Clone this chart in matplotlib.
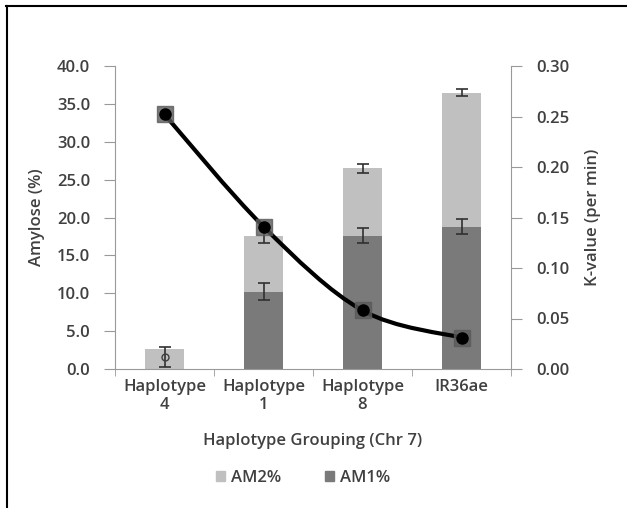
import numpy as np
import matplotlib
matplotlib.use("Agg")
import matplotlib.pyplot as plt
from matplotlib.path import Path
from matplotlib.patches import PathPatch, Rectangle
from matplotlib.lines import Line2D

categories = ["Haplotype\n4", "Haplotype\n1", "Haplotype\n8", "IR36ae"]
am1 = [0.0, 10.2, 17.6, 18.8]
am1_err = [0.0, 1.1, 1.0, 1.0]
am_total = [2.7, 17.6, 26.5, 36.5]
total_err = [0.0, 1.0, 0.6, 0.4]
hap4_mark = 1.6
hap4_mark_err = 1.3
kvalue = [0.252, 0.141, 0.058, 0.031]
am2 = [t - a for t, a in zip(am_total, am1)]

plt.rcParams['font.family'] = ['Open Sans', 'DejaVu Sans']
plt.rcParams['font.weight'] = 'semibold'
plt.rcParams['axes.labelweight'] = 'semibold'
txt = '#404040'
dark = '#7a7a7a'
light = '#c0c0c0'
fs = 12

fig = plt.figure(figsize=(6.27, 5.08), dpi=100)
ax = fig.add_axes([115/627, 1-369/508, (511-115)/627, (369-66)/508])
x = np.arange(len(categories))
w = 0.39
ax.bar(x, am1, w, color=dark, zorder=2)
ax.bar(x, am2, w, bottom=am1, color=light, zorder=2)
ax.errorbar(x[1:], am1[1:], yerr=am1_err[1:], fmt='none', ecolor='#303030', capsize=4, elinewidth=1.2, capthick=1.2, zorder=3)
ax.errorbar(x[1:], am_total[1:], yerr=total_err[1:], fmt='none', ecolor='#303030', capsize=4, elinewidth=1.2, capthick=1.2, zorder=3)
ax.errorbar([x[0]], [hap4_mark], yerr=[hap4_mark_err], fmt='o', mfc='none', mec='#404040', ms=5, ecolor='#303030', capsize=4, elinewidth=1.2, capthick=1.2, zorder=3)

ax.set_ylim(0, 40)
ax.set_xlim(-0.5, 3.5)
ax.set_yticks(np.arange(0, 40.1, 5))
ax.set_yticklabels([f"{v:.1f}" for v in np.arange(0, 40.1, 5)])
ax.set_xticks(x)
ax.set_xticklabels(categories, color=txt, fontsize=fs, linespacing=1.2)
ax.set_xticks(np.arange(-0.5, 3.6, 1), minor=True)
ax.tick_params(axis='x', which='major', length=0, pad=7)
ax.tick_params(axis='x', which='minor', length=5, color='#999999', direction='out')
ax.tick_params(axis='y', length=8, color='#999999', labelcolor=txt, labelsize=fs, pad=10)
for s in ['top', 'right']:
    ax.spines[s].set_visible(False)
for s in ['left', 'bottom']:
    ax.spines[s].set_color('#999999')
ax.set_ylabel("Amylose (%)", color=txt, fontsize=fs)
ax.yaxis.set_label_coords((45-115)/(511-115), 0.5)
ax.set_xlabel("Haplotype Grouping (Chr 7)", color=txt, fontsize=fs)
ax.xaxis.set_label_coords(0.5, -(433-369)/(369-66))

ax2 = ax.twinx()
ax2.set_ylim(0, 0.30)
ax2.set_yticks(np.arange(0, 0.301, 0.05))
ax2.set_yticklabels([f"{v:.2f}" for v in np.arange(0, 0.301, 0.05)])
ax2.tick_params(axis='y', length=8, color='#999999', labelcolor=txt, labelsize=fs, pad=10)
for s in ['top', 'left', 'bottom']:
    ax2.spines[s].set_visible(False)
ax2.spines['right'].set_color('#999999')
ax2.set_ylabel("K-value (per min)", color=txt, fontsize=fs)
ax2.yaxis.set_label_coords((585-115)/(511-115), 0.5)

# smoothed line (Catmull-Rom to Bezier), as Excel smoothing
pts = np.column_stack([x, kvalue]).astype(float)
verts = [tuple(pts[0])]
codes = [Path.MOVETO]
n = len(pts)
for i in range(n - 1):
    p0 = pts[i - 1] if i > 0 else pts[i]
    p1 = pts[i]
    p2 = pts[i + 1]
    p3 = pts[i + 2] if i + 2 < n else pts[i + 1]
    c1 = p1 + (p2 - p0) / 6.0
    c2 = p2 - (p3 - p1) / 6.0
    verts += [tuple(c1), tuple(c2), tuple(p2)]
    codes += [Path.CURVE4] * 3
ax2.add_patch(PathPatch(Path(verts, codes), fill=False, lw=3, color='black', zorder=4))
ax2.plot(x, kvalue, 's', ms=11, color='#5a5a5a', zorder=5, alpha=0.8)
ax2.plot(x, kvalue, 'o', ms=8, color='black', zorder=6)

handles = [Rectangle((0, 0), 1, 1, color=light), Rectangle((0, 0), 1, 1, color=dark)]
fig.legend(handles, ["AM2%", "AM1%"], loc='center', bbox_to_anchor=(303/627, 1-478/508),
           ncol=2, frameon=False, fontsize=fs, labelcolor=txt, handlelength=0.55, handleheight=0.55,
           handletextpad=0.35, columnspacing=2.6)

fig.add_artist(Line2D([6/627, 1], [1-6/508, 1-6/508], color='black', lw=1.5))
fig.add_artist(Line2D([6.5/627, 6.5/627], [0, 1-6/508], color='black', lw=1.5))

fig.savefig("out.png", dpi=100)
